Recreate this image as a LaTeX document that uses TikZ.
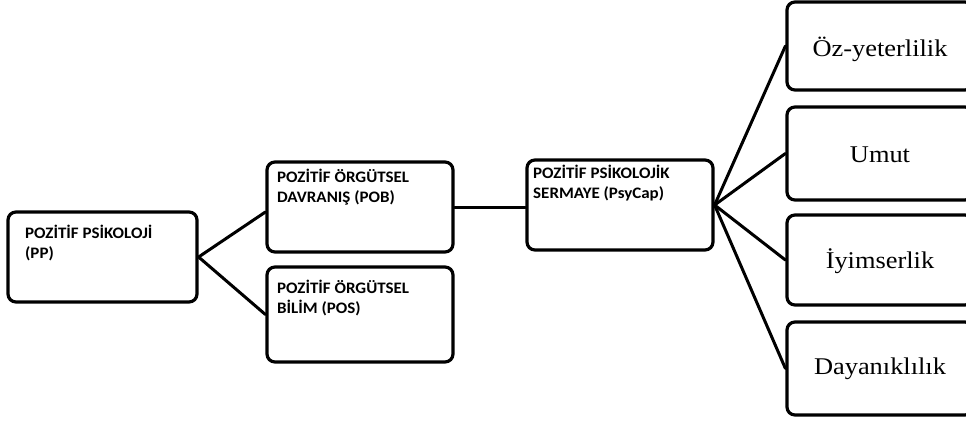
\documentclass[tikz,border=0pt]{standalone}
\usepackage{fontspec}
\newfontfamily\boxsans[FakeStretch=1.06]{Carlito}
\newfontfamily\boxserif[FakeStretch=1.1]{Liberation Serif}
\begin{document}
\begin{tikzpicture}[x=1pt,y=-1pt,
  box/.style={draw=black,line width=3.2pt,rounded corners=8pt,fill=white,inner sep=0pt},
  lbl/.style={anchor=base west,align=left,inner sep=0pt,font=\boxsans\bfseries\fontsize{16}{20}\selectfont},
  item/.style={inner sep=0pt,font=\boxserif\fontsize{24}{28}\selectfont},
  conn/.style={line width=3pt,line cap=round}]
\useasboundingbox[fill=white] (0,0) rectangle (966,421);
% boxes
\node[box,minimum width=189pt,minimum height=90pt] (pp) at (102.5,257) {};
\node[box,minimum width=186pt,minimum height=90pt] (pob) at (360,207) {};
\node[box,minimum width=186pt,minimum height=95pt] (pos) at (360,314.5) {};
\node[box,minimum width=186pt,minimum height=90pt] (psy) at (620,205) {};
\node[box,minimum width=186pt,minimum height=88pt] (b1) at (880,46) {};
\node[box,minimum width=186pt,minimum height=93pt] (b2) at (880,153.5) {};
\node[box,minimum width=186pt,minimum height=90pt] (b3) at (880,260) {};
\node[box,minimum width=186pt,minimum height=93pt] (b4) at (880,368.5) {};
% texts (anchor = baseline of the last line)
\node[lbl] (ppt) at (25,258) {POZİTİF PSİKOLOJİ\\(PP)};
\node[lbl] (pobt) at (277,202) {POZİTİF ÖRGÜTSEL\\DAVRANIŞ (POB)};
\node[lbl] (post) at (277,313) {POZİTİF ÖRGÜTSEL\\BİLİM (POS)};
\node[lbl] (psyt) at (533,198) {POZİTİF PSİKOLOJİK\\SERMAYE (PsyCap)};
\node[item] (t1) at (880,49) {Öz-yeterlilik};
\node[item] (t2) at (880,155) {Umut};
\node[item] (t3) at (880,261) {İyimserlik};
\node[item] (t4) at (880,369) {Dayanıklılık};
% connectors
\draw[conn] (pp.east) -- ([yshift=-5pt]pob.west);
\draw[conn] (pp.east) -- (pos.west);
\draw[conn] (pob.east) -- (pob.east -| psy.west);
\draw[conn] (psy.east) -- (b1.west);
\draw[conn] (psy.east) -- (b2.west);
\draw[conn] (psy.east) -- (b3.west);
\draw[conn] (psy.east) -- (b4.west);
\end{tikzpicture}
\end{document}
